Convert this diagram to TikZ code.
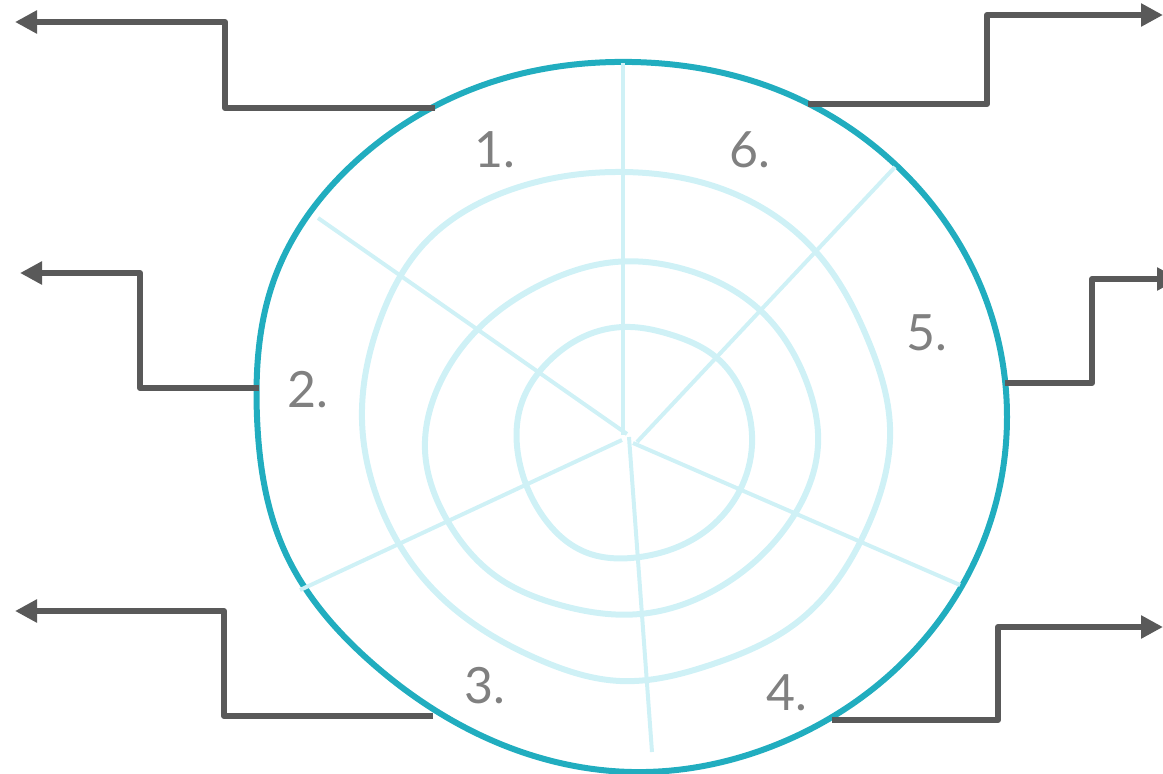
\documentclass[tikz,border=0pt]{standalone}
\usepackage{fontspec}
\setmainfont{Lato}
\usetikzlibrary{arrows.meta,hobby}
\definecolor{rimcol}{HTML}{21ADBF}
\definecolor{ringcol}{HTML}{CFF1F6}
\definecolor{conncol}{HTML}{595959}
\definecolor{labcol}{HTML}{808080}
\tikzset{
  rim/.style={draw=rimcol, line width=6pt},
  ring/.style={draw=ringcol, line width=6pt},
  spoke/.style={draw=ringcol, line width=4pt},
  conn/.style={draw=conncol, line width=6pt, line join=round, -{Triangle[length=22pt,width=22pt]}},
  lab/.style={text=labcol, font=\fontsize{50}{50}\selectfont, inner sep=0pt}
}
\begin{document}
\begin{tikzpicture}[x=1pt,y=-1pt]
\useasboundingbox (0,0) rectangle (1163,774);
\clip (0,0) rectangle (1163,774);
% outer rim
\draw[rim] plot[closed hobby] coordinates {(632,62) (775.5,89) (897,166) (978.5,281) (1007,417) (978.5,553) (897,668) (775.5,745) (632,772) (491,740) (372,663) (285.5,553) (257,417) (275,277) (359,158.5) (486,84)};
% spoke ends
\coordinate (s1a) at (623,435); \coordinate (s1b) at (623,63);
\coordinate (s2a) at (627,434); \coordinate (s2b) at (318,218);
\coordinate (s3a) at (622,440); \coordinate (s3b) at (300,590);
\coordinate (s4a) at (629,437); \coordinate (s4b) at (652,752);
\coordinate (s5a) at (633,443); \coordinate (s5b) at (960,585);
\coordinate (s6a) at (637,442); \coordinate (s6b) at (895,167);
\foreach \i in {1,...,6} {\draw[spoke] (s\i a) -- (s\i b);}
% rings
\draw[ring] plot[closed hobby] coordinates {(623,172) (725,190) (817,253) (868,340) (890,427) (866,530) (800,620) (710,665) (620,681) (540,660) (432,588) (378,500) (362,420) (380,320) (423,245) (510,190)};
\draw[ring] plot[closed hobby] coordinates {(615,262) (687,270) (762,312) (807,383) (818,445) (793,517) (720,587) (640,614) (560,605) (497,577) (447,520) (425,450) (440,383) (477,330) (540,285)};
\draw[ring] plot[closed hobby] coordinates {(623,327) (672,335) (717,358) (745,400) (752,445) (740,490) (700,535) (640,557) (585,552) (540,512) (519,460) (521,405) (550,360) (585,336)};
% connectors
\coordinate (c1s) at (435,108); \coordinate (c1k) at (225,22); \coordinate (c1e) at (15,22);
\coordinate (c2s) at (259,388); \coordinate (c2k) at (140,273); \coordinate (c2e) at (20,273);
\coordinate (c3s) at (433,716); \coordinate (c3k) at (224,611); \coordinate (c3e) at (15,611);
\coordinate (c4s) at (832,720); \coordinate (c4k) at (998,627); \coordinate (c4e) at (1163,627);
\coordinate (c5s) at (1005,383); \coordinate (c5k) at (1092,279); \coordinate (c5e) at (1179,279);
\coordinate (c6s) at (808,104); \coordinate (c6k) at (987,15); \coordinate (c6e) at (1163,15);
\foreach \i in {1,...,6} {\draw[conn] (c\i s) -| (c\i k) -- (c\i e);}
% labels
\node[lab] (l1) at (495,150) {1.};
\node[lab] (l2) at (308,390) {2.};
\node[lab] (l3) at (485,686) {3.};
\node[lab] (l4) at (787,693) {4.};
\node[lab] (l5) at (927,333) {5.};
\node[lab] (l6) at (750,150) {6.};
\end{tikzpicture}
\end{document}
